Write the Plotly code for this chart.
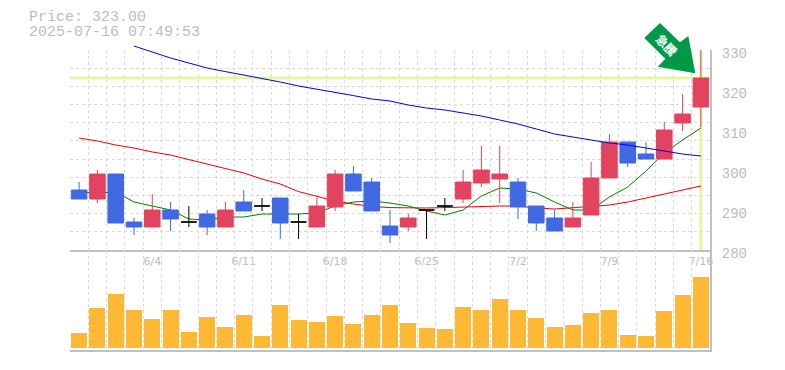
import plotly.graph_objects as go

dates = ["5/29","5/30","6/2","6/3","6/4","6/5","6/6","6/9","6/10","6/11","6/12","6/13","6/16","6/17","6/18",
         "6/19","6/20","6/23","6/24","6/25","6/26","6/27","6/30","7/1","7/2","7/3","7/4","7/7","7/8","7/9",
         "7/10","7/11","7/14","7/15","7/16"]
date_labels = ["6/4","6/11","6/18","6/25","7/2","7/9","7/16"]

opens  = [295,292.75,299,287,285.75,290,287,289,285.75,292,291,293,287,285.75,290.75,
          299,297,286,285.75,290,291,292.75,296.75,297.75,297,291,288,285.75,288.75,298,
          307,304,302.75,311.75,315.75]
closes = [292.75,299,286.75,285.75,290,287.75,287,285.75,290,289.75,291,286.75,287,291,299,
          294.75,289.75,283.75,288,290,291,297,300,299,290.75,286.75,284.75,288,298,307,
          301.75,302.75,310,314,323]
highs  = [297,300,299,288,294,292,291,290,292,295,293,293,289,293,300,
          301,298,290,289,290,293,300,306,306,298,291,290,292,302,309,
          307,307,312,319,330]
lows   = [292.75,291.75,286.75,283.75,285.75,284.75,285.75,283.75,285.75,289.75,289.75,282.75,282.75,285.75,289.75,
          294.75,289.75,281.75,284.75,282.75,289.75,291.75,295.75,291.75,287.75,284.75,284.75,285.75,288.75,298,
          300.75,302.75,302.75,309.75,310.75]
volumes = [15,40,54,38,29,38,16,31,21,33,12,43,28,26,32,24,33,43,25,20,19,41,38,49,38,30,21,23,35,38,13,12,37,53,71]

ma_short = [294.5,294.25,294.5,292,291,290,287.75,287.5,288.25,288.25,289,289,289,289.25,291,292,292.25,291.75,
            291,289.75,288.75,290,293.5,295.5,295.25,294.25,292,290,290,293.25,295.75,299.75,304.25,307.5,310.5]
ma_mid = [308,307.25,306.25,305.5,304.5,303.75,302.6,301.5,300.5,299.25,297.75,296.5,294.6,293.5,292.25,291.5,
          290.9,290.6,290.5,290.5,290.6,290.75,291,291,291,290.5,290.25,290.5,290.9,291.25,292,293,294,295,296]
ma_long = [None,None,None,331,329.5,328,326.75,325.5,324.6,323.75,323,322,321,320.25,319.5,318.6,317.75,317.25,
           316.25,315.5,315,314.25,313.5,312.5,311.5,310.25,309,308.25,307.5,306.75,306.25,305.5,304.75,304,303.5]
price_ticks = [280,290,300,310,320,330]
last_price = 323.00
header = ["Price: 323.00", "2025-07-16 07:49:53"]
flag_text = "急騰"

UP, DOWN, DOJI = "#E2435F", "#4169E1", "#000000"
GRID, AXIS, LABEL, MARK = "#DADADA", "#C0C0C0", "#BDBDBD", "#E4F5A6"
MONO = "Liberation Mono, monospace"
DASH = "3px,3px"
H = 306  # plot area height in pixels; the top 6 px only hold the start of the long average

def pick(test):
    idx = [i for i in range(len(dates)) if test(opens[i], closes[i])]
    return dict(x=[dates[i] for i in idx], open=[opens[i] for i in idx], high=[highs[i] for i in idx],
                low=[lows[i] for i in idx], close=[closes[i] for i in idx])

fig = go.Figure()
# long average: own taller subplot, because it starts above the price pane and lines clip to their subplot
fig.add_trace(go.Scatter(x=dates, y=ma_long, mode="lines", line=dict(color="#0000E6", width=1),
                         xaxis="x4", yaxis="y5", showlegend=False))
# lines sit in the base subplot so that the candles (overlay axis) cover them
for vals, col in [(ma_mid, "#F00000"), (ma_short, "#008000")]:
    fig.add_trace(go.Scatter(x=dates, y=vals, mode="lines", line=dict(color=col, width=1),
                             xaxis="x", yaxis="y", showlegend=False))

for test, col in [(lambda o, c: c > o, UP), (lambda o, c: c < o, DOWN), (lambda o, c: c == o, DOJI)]:
    fig.add_trace(go.Candlestick(**pick(test), xaxis="x", yaxis="y2", whiskerwidth=0, showlegend=False,
                                 increasing=dict(line=dict(color=col, width=1), fillcolor=col),
                                 decreasing=dict(line=dict(color=col, width=1), fillcolor=col)))

fig.add_trace(go.Bar(x=dates, y=volumes, marker=dict(color="#FFB833", line=dict(width=0)), width=0.875,
                     xaxis="x3", yaxis="y3", showlegend=False))
# carries the shifted price labels
fig.add_trace(go.Scatter(x=[dates[0]] * len(price_ticks), y=price_ticks, mode="none", xaxis="x2", yaxis="y4",
                         showlegend=False, hoverinfo="skip"))

tick_text = [d if d in date_labels else "" for d in dates]
cat = dict(type="category", categoryorder="array", categoryarray=dates, range=[-0.5, len(dates) - 0.5],
           automargin=False)
fig.update_layout(
    template="none",
    width=769, height=354, margin=dict(l=62, r=67, t=36, b=12), autosize=False,
    paper_bgcolor="white", plot_bgcolor="rgba(0,0,0,0)", boxgap=0.15, boxgroupgap=0, boxmode="overlay", bargap=0,
    xaxis=dict(**cat, anchor="y", tickmode="array", tickvals=dates, ticktext=tick_text, tickson="boundaries",
               showgrid=True, gridcolor=GRID, griddash=DASH, gridwidth=1, ticks="", showline=True,
               linecolor=AXIS, linewidth=2, tickangle=0, tickfont=dict(family="DejaVu Sans", size=11, color=LABEL),
               rangeslider=dict(visible=False), zeroline=False),
    xaxis2=dict(**cat, overlaying="x", anchor="y4", visible=False),
    xaxis3=dict(**cat, anchor="y3", matches="x", tickmode="array", tickvals=dates, ticktext=[""] * len(dates),
                tickson="boundaries", showgrid=True, gridcolor=GRID, griddash=DASH, gridwidth=1, ticks="",
                showline=True, linecolor=AXIS, linewidth=2, zeroline=False),
    xaxis4=dict(**cat, anchor="y5", visible=False),
    yaxis=dict(domain=[100 / H, 300 / H], range=[280, 330], side="right", anchor="x", tick0=280, dtick=50 / 11,
               showticklabels=False, ticks="", showgrid=True, gridcolor=GRID, griddash=DASH, gridwidth=1,
               showline=True, linecolor=AXIS, linewidth=2, zeroline=False, automargin=False),
    yaxis2=dict(overlaying="y", range=[280, 330], side="right", anchor="x", showticklabels=False, ticks="",
                showgrid=False, zeroline=False, showline=False, automargin=False),
    yaxis3=dict(domain=[0, 100 / H], range=[-2, 98], side="right", anchor="x3", showticklabels=False, ticks="",
                showgrid=False, showline=True, linecolor=AXIS, linewidth=2, zeroline=False, automargin=False),
    yaxis4=dict(domain=[97 / H, 297 / H], range=[280, 330], side="right", anchor="x2", tickmode="array",
                tickvals=price_ticks, ticks="outside", ticklen=8, tickcolor="rgba(0,0,0,0)",
                tickfont=dict(family=MONO, size=14, color=LABEL), showgrid=False, zeroline=False, showline=False,
                automargin=False),
    yaxis5=dict(domain=[100 / H, 1], range=[280, 331.5], anchor="x4", visible=False, automargin=False),
    shapes=[
        dict(type="line", layer="below", xref="x", yref="paper", x0=dates[-1], x1=dates[-1], y0=100 / H, y1=300 / H,
             line=dict(color=MARK, width=3)),
        dict(type="line", layer="below", xref="paper", yref="y", x0=0, x1=1, y0=last_price, y1=last_price,
             line=dict(color=MARK, width=3)),
        dict(type="path", layer="above", xref="paper", yref="paper", fillcolor="#009A47", line=dict(width=0),
             path="M 0.9770 0.9042 L 0.9661 1.0262 L 0.9531 1.0056 L 0.9219 1.0686 L 0.8973 1.0196 "
                  "L 0.9302 0.9520 L 0.9183 0.9258 Z"),
    ],
    annotations=[
        dict(text=header[0], xref="paper", yref="paper", x=-0.0656, y=1.085, xanchor="left", yanchor="middle",
             showarrow=False, height=15, borderpad=0, font=dict(family=MONO, size=15, color=LABEL)),
        dict(text=header[1], xref="paper", yref="paper", x=-0.0656, y=1.036, xanchor="left", yanchor="middle",
             showarrow=False, height=15, borderpad=0, font=dict(family=MONO, size=15, color=LABEL)),
        dict(text="<b>" + flag_text + "</b>", xref="paper", yref="paper", x=0.9328, y=0.9983, xanchor="center",
             yanchor="middle", showarrow=False, textangle=45,
             font=dict(family="Noto Sans CJK JP", size=12, color="white")),
    ],
)
fig.write_html("out.html")
